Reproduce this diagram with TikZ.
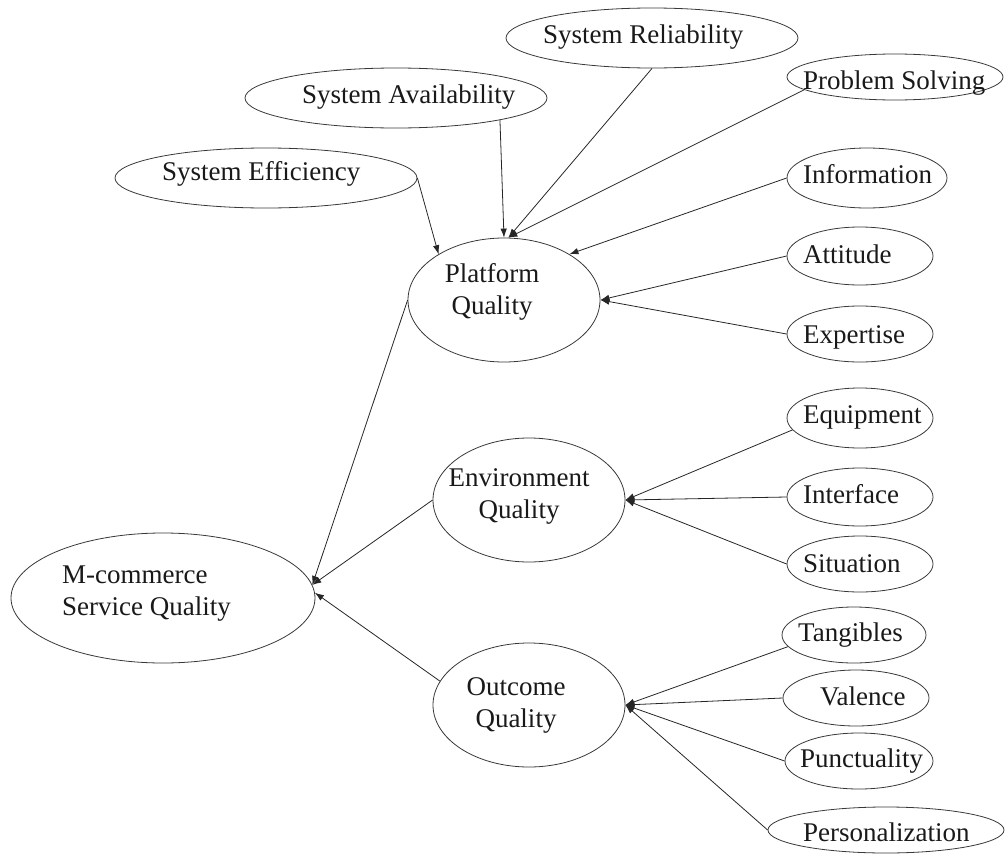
\documentclass[tikz,border=0pt]{standalone}
\usepackage{fontspec}
\setmainfont{Liberation Serif}
\usetikzlibrary{shapes.geometric,arrows.meta}
\begin{document}
\begin{tikzpicture}[x=1pt,y=-1pt,
  oval/.style={ellipse,draw=black!78,line width=0.8pt,inner sep=0pt},
  txt/.style={font=\fontsize{27}{32}\selectfont,inner sep=0pt,text=black!90},
  link/.style={draw=black!85,line width=0.8pt,-{Latex[length=9pt,width=6.5pt]}}]
\useasboundingbox (0,0) rectangle (1005,854);

% central construct (two-line labels are placed by the baseline of their last line)
\node[oval,minimum width=304pt,minimum height=130pt] (mc) at (163,598) {};
\node[txt,align=left,anchor=base west] (mc-t) at (62,615) {M-commerce\\Service Quality};

% second-level constructs
\node[oval,minimum width=192pt,minimum height=124pt] (pq) at (504,300) {};
\node[txt,align=center,anchor=base] (pq-t) at (492,314) {Platform\\Quality};
\node[oval,minimum width=192pt,minimum height=124pt] (eq) at (529,500) {};
\node[txt,align=center,anchor=base] (eq-t) at (519,518) {Environment\\Quality};
\node[oval,minimum width=192pt,minimum height=124pt] (oq) at (529,705) {};
\node[txt,align=center,anchor=base] (oq-t) at (516,727) {Outcome\\Quality};

% platform dimensions
\node[oval,minimum width=302pt,minimum height=60pt] (se) at (266,178) {};
\node[txt,anchor=base west] (se-t) at (162,180) {System Efficiency};
\node[oval,minimum width=302pt,minimum height=60pt] (sa) at (396,98) {};
\node[txt,anchor=base west] (sa-t) at (302,103) {System Availability};
\node[oval,minimum width=292pt,minimum height=60pt] (sr) at (652,38) {};
\node[txt,anchor=base west] (sr-t) at (543,43) {System Reliability};
\node[oval,minimum width=216pt,minimum height=46pt] (ps) at (895,77) {};
\node[txt,anchor=base west] (ps-t) at (803,89) {Problem Solving};
\node[oval,minimum width=160pt,minimum height=60pt] (info) at (867,178) {};
\node[txt,anchor=base west] (info-t) at (803,183) {Information};
\node[oval,minimum width=146pt,minimum height=58pt] (att) at (860,256) {};
\node[txt,anchor=base west] (att-t) at (803,263) {Attitude};
\node[oval,minimum width=146pt,minimum height=56pt] (exp) at (860,334) {};
\node[txt,anchor=base west] (exp-t) at (803,343) {Expertise};

% environment dimensions
\node[oval,minimum width=146pt,minimum height=60pt] (equ) at (860,418) {};
\node[txt,anchor=base west] (equ-t) at (803,423) {Equipment};
\node[oval,minimum width=146pt,minimum height=58pt] (int) at (860,497) {};
\node[txt,anchor=base west] (int-t) at (803,503) {Interface};
\node[oval,minimum width=146pt,minimum height=56pt] (sit) at (860,564) {};
\node[txt,anchor=base west] (sit-t) at (803,572) {Situation};

% outcome dimensions
\node[oval,minimum width=144pt,minimum height=56pt] (tan) at (854,635) {};
\node[txt,anchor=base west] (tan-t) at (798,641) {Tangibles};
\node[oval,minimum width=146pt,minimum height=56pt] (val) at (856,698) {};
\node[txt,anchor=base west] (val-t) at (820,705) {Valence};
\node[oval,minimum width=148pt,minimum height=56pt] (pun) at (859,761) {};
\node[txt,anchor=base west] (pun-t) at (800,767) {Punctuality};
\node[oval,minimum width=236pt,minimum height=46pt] (per) at (886,830) {};
\node[txt,anchor=base west] (per-t) at (803,841) {Personalization};

% links into platform quality
\draw[link] (se.east) -- (pq.145);
\draw[link] (sa.-12) -- (pq.north);
\draw[link] (sr.south) -- (pq.86);
\draw[link] (ps.188) -- (pq.86);
\draw[link] (info.west) -- (pq.35);
\draw[link] (att.west) -- (pq.east);
\draw[link] (exp.west) -- (pq.east);

% links into environment quality
\draw[link] (equ.190) -- (eq.east);
\draw[link] (int.west) -- (eq.east);
\draw[link] (sit.west) -- (eq.east);

% links into outcome quality
\draw[link] (tan.190) -- (oq.east);
\draw[link] (val.west) -- (oq.east);
\draw[link] (pun.west) -- (oq.east);
\draw[link] (per.west) -- (oq.east);

% links into the overall construct
\draw[link] (pq.west) -- (mc.5);
\draw[link] (eq.west) -- (mc.5);
\draw[link] (oq.165) -- (mc.2);
\end{tikzpicture}
\end{document}
